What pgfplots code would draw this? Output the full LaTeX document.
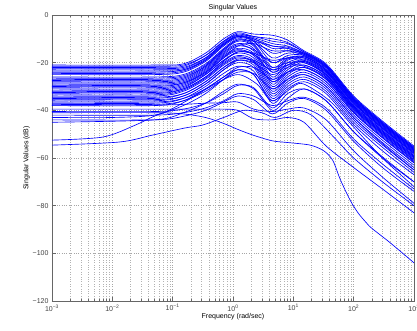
\documentclass[border=0pt]{standalone}
\usepackage{pgfplots}
\pgfplotsset{compat=1.18}
\usepackage{fontspec}
\setmainfont{Liberation Sans}
\begin{document}
\begin{tikzpicture}
\begin{axis}[
  scale only axis, width=362pt, height=286pt,
  xmode=log, xmin=1e-3, xmax=1e3, ymin=-120, ymax=0,
  xtick={1e-3,1e-2,1e-1,1,1e1,1e2,1e3},
  xticklabels={10\textsuperscript{−3},10\textsuperscript{−2},10\textsuperscript{−1},10\textsuperscript{0},10\textsuperscript{1},10\textsuperscript{2},10\textsuperscript{3}},
  ytick={-120,-100,-80,-60,-40,-20,0},
  yticklabels={−120,−100,−80,−60,−40,−20,0},
  tick label style={font=\fontsize{7}{8}\selectfont, text=black!75},
  label style={font=\fontsize{7}{8}\selectfont},
  title style={font=\fontsize{7}{8}\selectfont, yshift=-5pt},
  title={Singular Values},
  xlabel={Frequency (rad/sec)},
  ylabel={Singular Values (dB)},
  xlabel style={yshift=5pt},
  ylabel style={yshift=-4pt},
  xmajorgrids, xminorgrids, ymajorgrids,
  major grid style={black!35, dotted},
  minor grid style={black!30, dotted},
  axis line style={black!60},
  every tick/.style={black!60},
  major tick length=4pt, minor tick length=2pt,
  cycle list={blue,solid,line width=0.65pt\\},
  no markers,
  every axis plot/.append style={smooth},
]
% common grid: 0.001 0.05 0.15 0.35 0.7 1.2 2.2 4.5 8 15 35 100 300 1000
\addplot coordinates {(0.001,-21)(0.05,-21)(0.15,-20.5)(0.35,-16)(0.7,-10)(1.2,-7)(2.2,-8)(4.5,-8.5)(8,-10.5)(15,-15)(35,-20.5)(100,-34)(300,-44.5)(1000,-55)};
\addplot coordinates {(0.001,-22)(0.05,-22)(0.15,-21.5)(0.35,-17)(0.7,-11)(1.2,-7.5)(2.2,-9)(4.5,-10)(8,-11.5)(15,-15.5)(35,-21)(100,-34.5)(300,-45)(1000,-55.5)};
\addplot coordinates {(0.001,-23)(0.05,-23)(0.15,-22.5)(0.35,-18)(0.7,-11.5)(1.2,-8)(2.2,-9.5)(4.5,-12)(8,-13)(15,-16)(35,-21.5)(100,-35)(300,-45.5)(1000,-56)};
\addplot coordinates {(0.001,-21.5)(0.05,-21.5)(0.15,-21)(0.35,-17)(0.7,-11)(1.2,-8.5)(2.2,-10)(4.5,-14)(8,-14)(15,-16.5)(35,-22)(100,-35.5)(300,-46)(1000,-56.5)};
\addplot coordinates {(0.001,-24)(0.05,-24)(0.15,-23)(0.35,-19)(0.7,-12.5)(1.2,-9)(2.2,-10.5)(4.5,-16)(8,-15)(15,-16)(35,-21.5)(100,-35)(300,-45.5)(1000,-56)};
\addplot coordinates {(0.001,-25)(0.05,-25)(0.15,-24)(0.35,-19.5)(0.7,-13)(1.2,-9.5)(2.2,-11)(4.5,-18)(8,-16)(15,-16.5)(35,-22)(100,-35.5)(300,-46)(1000,-56.5)};
\addplot coordinates {(0.001,-22.5)(0.05,-22.5)(0.15,-22)(0.35,-18)(0.7,-12)(1.2,-9)(2.2,-11)(4.5,-20)(8,-17)(15,-17)(35,-22.5)(100,-36)(300,-46.5)(1000,-57)};
\addplot coordinates {(0.001,-26)(0.05,-26)(0.15,-25)(0.35,-20.5)(0.7,-14)(1.2,-10)(2.2,-12)(4.5,-22)(8,-18)(15,-17.5)(35,-23)(100,-36.5)(300,-47)(1000,-57.5)};
\addplot coordinates {(0.001,-27)(0.05,-27)(0.15,-26)(0.35,-21.5)(0.7,-15)(1.2,-11)(2.2,-13)(4.5,-24)(8,-19)(15,-18)(35,-23.5)(100,-37)(300,-47.5)(1000,-58)};
\addplot coordinates {(0.001,-28)(0.05,-28)(0.15,-27)(0.35,-22)(0.7,-15.5)(1.2,-12)(2.2,-14)(4.5,-26)(8,-20)(15,-18.5)(35,-24)(100,-37.5)(300,-48)(1000,-58.5)};
\addplot coordinates {(0.001,-29)(0.05,-29)(0.15,-28)(0.35,-23)(0.7,-16.5)(1.2,-13)(2.2,-15)(4.5,-27)(8,-21)(15,-19)(35,-24.5)(100,-38)(300,-48.5)(1000,-59)};
\addplot coordinates {(0.001,-30)(0.05,-30)(0.15,-28.5)(0.35,-23.5)(0.7,-17)(1.2,-14)(2.2,-16)(4.5,-28)(8,-22)(15,-19.5)(35,-25)(100,-38.5)(300,-49)(1000,-59.5)};
\addplot coordinates {(0.001,-31)(0.05,-31)(0.15,-29.5)(0.35,-24.5)(0.7,-18)(1.2,-15)(2.2,-17)(4.5,-29)(8,-23)(15,-20)(35,-25.5)(100,-39)(300,-49.5)(1000,-60)};
\addplot coordinates {(0.001,-32)(0.05,-32)(0.15,-30.5)(0.35,-25)(0.7,-19)(1.2,-16)(2.2,-18)(4.5,-30)(8,-24)(15,-21)(35,-26)(100,-39.5)(300,-50)(1000,-60.5)};
\addplot coordinates {(0.001,-33)(0.05,-33)(0.15,-31)(0.35,-26)(0.7,-20)(1.2,-17)(2.2,-19)(4.5,-31)(8,-25)(15,-22)(35,-27)(100,-40)(300,-50.5)(1000,-61)};
\addplot coordinates {(0.001,-34)(0.05,-34)(0.15,-32)(0.35,-27)(0.7,-21)(1.2,-18)(2.2,-20)(4.5,-32)(8,-26)(15,-23)(35,-28)(100,-41)(300,-51.5)(1000,-62)};
\addplot coordinates {(0.001,-35)(0.05,-35)(0.15,-33)(0.35,-28)(0.7,-22)(1.2,-19)(2.2,-21)(4.5,-33)(8,-27)(15,-24)(35,-29)(100,-42)(300,-52.5)(1000,-63)};
\addplot coordinates {(0.001,-36)(0.05,-36)(0.15,-34)(0.35,-29)(0.7,-23)(1.2,-20)(2.2,-22)(4.5,-34)(8,-28)(15,-25)(35,-30)(100,-43)(300,-53.5)(1000,-64)};
\addplot coordinates {(0.001,-37)(0.05,-37)(0.15,-35)(0.35,-30)(0.7,-24.5)(1.2,-21.5)(2.2,-23.5)(4.5,-35)(8,-29)(15,-26)(35,-31)(100,-44)(300,-54.5)(1000,-65)};
\addplot coordinates {(0.001,-38)(0.05,-38)(0.15,-36)(0.35,-31)(0.7,-26)(1.2,-23)(2.2,-25)(4.5,-36)(8,-30)(15,-27)(35,-32)(100,-45)(300,-55.5)(1000,-66)};
\addplot coordinates {(0.001,-23.5)(0.05,-23.5)(0.15,-23)(0.35,-18.5)(0.7,-12)(1.2,-8.5)(2.2,-9)(4.5,-11)(8,-12)(15,-15.5)(35,-21)(100,-34.5)(300,-45)(1000,-55.5)};
\addplot coordinates {(0.001,-27.5)(0.05,-27.5)(0.15,-26.5)(0.35,-21.5)(0.7,-14.5)(1.2,-10.5)(2.2,-11)(4.5,-13)(8,-14)(15,-16.5)(35,-22)(100,-35.5)(300,-46)(1000,-56.5)};
\addplot coordinates {(0.001,-32.5)(0.05,-32.5)(0.15,-31)(0.35,-26)(0.7,-19.5)(1.2,-15.5)(2.2,-16)(4.5,-19)(8,-18)(15,-19)(35,-24)(100,-37)(300,-47.5)(1000,-58)};
\addplot coordinates {(0.001,-35.5)(0.05,-35.5)(0.15,-34)(0.35,-29)(0.7,-23)(1.2,-19)(2.2,-20)(4.5,-25)(8,-22)(15,-21)(35,-26)(100,-39)(300,-49.5)(1000,-60)};
\addplot coordinates {(0.001,-29.5)(0.05,-29.5)(0.15,-28.5)(0.35,-24)(0.7,-18)(1.2,-13)(2.2,-12)(4.5,-15)(8,-15)(15,-17)(35,-23)(100,-36)(300,-46.5)(1000,-57)};
\addplot coordinates {(0.001,-36.5)(0.05,-36.5)(0.15,-35)(0.35,-31)(0.7,-26)(1.2,-22)(2.2,-22)(4.5,-27)(8,-24)(15,-23)(35,-28)(100,-41)(300,-51.5)(1000,-62)};
\addplot coordinates {(0.001,-24.5)(0.05,-24.5)(0.15,-23.5)(0.35,-19)(0.7,-12.5)(1.2,-9)(2.2,-10)(4.5,-13)(8,-13.5)(15,-16)(35,-21.5)(100,-35)(300,-45.5)(1000,-56)};
\addplot coordinates {(0.001,-26.5)(0.05,-26.5)(0.15,-25.5)(0.35,-21)(0.7,-14.5)(1.2,-10.5)(2.2,-12.5)(4.5,-23)(8,-18.5)(15,-17.5)(35,-23)(100,-36.5)(300,-47)(1000,-57.5)};
\addplot coordinates {(0.001,-28.5)(0.05,-28.5)(0.15,-27.5)(0.35,-22.5)(0.7,-16)(1.2,-12.5)(2.2,-14.5)(4.5,-20)(8,-18)(15,-18)(35,-23.5)(100,-37)(300,-47.5)(1000,-58)};
\addplot coordinates {(0.001,-30.5)(0.05,-30.5)(0.15,-29)(0.35,-24)(0.7,-17.5)(1.2,-14.5)(2.2,-16.5)(4.5,-24)(8,-21)(15,-19.5)(35,-25)(100,-38.5)(300,-49)(1000,-59.5)};
\addplot coordinates {(0.001,-33.5)(0.05,-33.5)(0.15,-31.5)(0.35,-26.5)(0.7,-20.5)(1.2,-17.5)(2.2,-19.5)(4.5,-28)(8,-24)(15,-22)(35,-27)(100,-40.5)(300,-51)(1000,-61.5)};
\addplot coordinates {(0.001,-31.5)(0.05,-31.5)(0.15,-30)(0.35,-25)(0.7,-19)(1.2,-15.5)(2.2,-16.5)(4.5,-22)(8,-20)(15,-20)(35,-25)(100,-38)(300,-48.5)(1000,-59)};
\addplot coordinates {(0.001,-34.5)(0.05,-34.5)(0.15,-33)(0.35,-28)(0.7,-22)(1.2,-18.5)(2.2,-19)(4.5,-23)(8,-21)(15,-21.5)(35,-26.5)(100,-39.5)(300,-50)(1000,-61)};
\addplot coordinates {(0.001,-37.5)(0.05,-37.5)(0.15,-36)(0.35,-32)(0.7,-27)(1.2,-24)(2.2,-24.5)(4.5,-31)(8,-27)(15,-25)(35,-30)(100,-43)(300,-54)(1000,-65)};
% lower distinct curves
\addplot coordinates {(0.001,-39.5)(0.05,-39.5)(0.15,-39.5)(0.35,-39.5)(0.7,-39.5)(1.2,-40)(2.2,-43.5)(4.5,-44)(8,-43)(15,-45)(35,-55)(100,-64)(300,-73)(1000,-83)};
\addplot coordinates {(0.001,-37.8)(0.05,-37.8)(0.15,-37.5)(0.35,-37)(0.7,-36.8)(1.2,-36.5)(2.2,-39.5)(4.5,-40.5)(8,-39.5)(15,-39)(35,-44)(100,-57)(300,-68)(1000,-79)};
\addplot coordinates {(0.001,-41)(0.05,-41)(0.15,-41.5)(0.35,-43)(0.7,-45.5)(1.2,-48)(2.2,-50.5)(4.5,-52.8)(8,-53.5)(19,-54.6)(32,-57)(45,-61)(60,-69)(87,-77.6)(118,-83)(160,-87)(200,-89.5)(400,-95.5)(1000,-104)};
\addplot coordinates {(0.001,-52.5)(0.007,-51.2)(0.024,-46.2)(0.046,-42.8)(0.087,-40)(0.2,-35)(0.5,-29)(1.2,-25)(2.5,-29)(4.5,-36)(10,-30)(15,-29)(40,-36)(100,-47)(300,-60)(1000,-72)};
\addplot coordinates {(0.001,-54.6)(0.013,-53.3)(0.046,-50.4)(0.16,-47.4)(0.31,-46.2)(0.7,-43)(1.5,-40)(3,-41)(5,-43)(10,-40)(20,-42)(50,-52)(100,-60)(300,-70)(1000,-80)};
\addplot coordinates {(0.001,-43)(0.01,-43)(0.05,-42)(0.15,-38)(0.35,-33)(0.7,-27)(1.2,-23)(2.2,-25)(4.5,-37)(8,-31)(15,-28)(35,-33)(100,-46)(300,-57)(1000,-67)};
\addplot coordinates {(0.001,-45)(0.05,-44)(0.15,-41)(0.35,-37)(0.7,-32)(1.2,-29)(2.2,-31)(4.5,-40)(8,-35)(15,-31)(35,-36)(100,-49)(300,-60)(1000,-70)};
\addplot coordinates {(0.001,-44)(0.05,-44)(0.15,-42.5)(0.35,-40)(0.7,-36.5)(1.2,-34)(2.2,-35.5)(4.5,-41.5)(8,-37)(15,-35)(35,-40)(100,-53)(300,-64)(1000,-74)};
\addplot coordinates {(0.001,-42)(0.05,-42)(0.15,-41)(0.35,-39)(0.7,-36)(1.2,-33)(2.2,-34)(4.5,-38)(8,-36)(15,-34.5)(35,-39)(100,-52)(300,-62.5)(1000,-73)};
\addplot coordinates {(0.001,-40.5)(0.05,-40.5)(0.15,-39.5)(0.35,-37)(0.7,-33)(1.2,-29.5)(2.2,-30.5)(4.5,-39)(8,-33)(15,-31)(35,-36)(100,-49)(300,-59.5)(1000,-70)};
\end{axis}
\pgfresetboundingbox
\useasboundingbox ([xshift=-52pt,yshift=-29pt]current axis.south west) rectangle ([xshift=3pt,yshift=15pt]current axis.north east);
\end{tikzpicture}
\end{document}
